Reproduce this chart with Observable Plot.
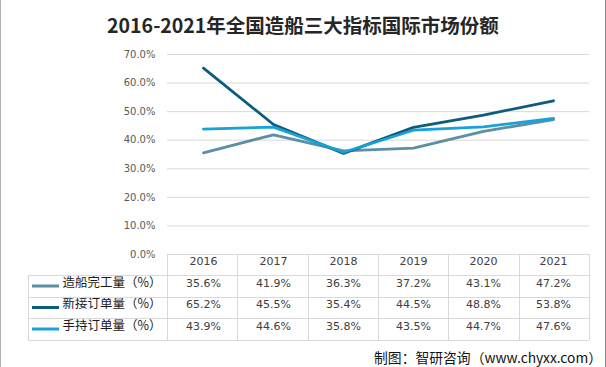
<!DOCTYPE html>
<html>
<head>
<meta charset="utf-8">
<script src="https://cdn.jsdelivr.net/npm/d3@7"></script>
<script src="https://cdn.jsdelivr.net/npm/@observablehq/plot@0.6"></script>
<style>
  html, body { margin: 0; padding: 0; background: #fff; }
  #wrap { position: relative; width: 606px; height: 367px; overflow: hidden; background: #fff; }
  #title { position: absolute; left: 0; top: 11px; width: 606px; text-align: center;
           font-family: "Noto Sans CJK SC", sans-serif; font-weight: bold; font-size: 19.5px; color: #262626; line-height: 28px; }
  #caption { position: absolute; right: 4px; top: 347px; font-family: "Noto Sans CJK SC", sans-serif;
             font-size: 13.8px; color: #111; line-height: 20px; }
  #chart { position: absolute; left: 0; top: 0; }
  #border { position: absolute; left: 0; top: 0; width: 604px; height: 367px; border-left: 1px solid #b0b0b0; border-right: 1px solid #8a8a8a; pointer-events: none; }
</style>
</head>
<body>
<div id="wrap">
  <div id="chart"></div>
  <div id="title">2016-2021年全国造船三大指标国际市场份额</div>
  <div id="caption">制图：智研咨询（www.chyxx.com）</div>
  <div id="border"></div>
</div>
<script>
const years = ["2016", "2017", "2018", "2019", "2020", "2021"];
const seriesNames = ["造船完工量（%）", "新接订单量（%）", "手持订单量（%）"];
const completed = [35.6, 41.9, 36.3, 37.2, 43.1, 47.2];
const newOrders = [65.2, 45.5, 35.4, 44.5, 48.8, 53.8];
const holding = [43.9, 44.6, 35.8, 43.5, 44.7, 47.6];
const colors = ["#5b8fa6", "#0d5c7b", "#17a2da"];
const yTicks = [0, 10, 20, 30, 40, 50, 60, 70];

const seriesValues = [completed, newOrders, holding];
const long = seriesValues.flatMap((vals, i) => years.map((yr, j) => ({year: yr, value: vals[j], name: seriesNames[i]})));

const W = 606, H = 367, ML = 167, MR = 17, MT = 54, MB = 113;
const frameBottom = H - MB;              // 254
const rowTops = [frameBottom, 275, 297, 318, 340];
const rowCenters = rowTops.slice(0, -1).map((t, i) => (t + rowTops[i + 1]) / 2);

const marks = [
  Plot.ruleY(yTicks, {stroke: "#d9d9d9", strokeWidth: 1}),
  Plot.line(long, {x: "year", y: "value", z: "name", stroke: "name", strokeWidth: 2.8, curve: "linear"}),
  Plot.text(years, {x: d => d, text: d => d, frameAnchor: "bottom", dy: rowCenters[0] - frameBottom,
    fontSize: 11, fill: "#404040", fontFamily: "DejaVu Sans"})
];
seriesValues.forEach((vals, i) => {
  marks.push(Plot.text(years, {x: d => d, text: (d, j) => vals[j].toFixed(1) + "%", frameAnchor: "bottom",
    dy: rowCenters[i + 1] - frameBottom, fontSize: 11, fill: "#404040", fontFamily: "DejaVu Sans"}));
  marks.push(Plot.text([seriesNames[i]], {text: d => d, frameAnchor: "bottom-left", textAnchor: "start",
    dx: 62 - ML, dy: rowCenters[i + 1] - frameBottom, fontSize: 12.5, fill: "#1a1a1a",
    fontFamily: "Noto Sans CJK SC"}));
});

const chart = Plot.plot({
  width: W, height: H,
  marginTop: MT, marginBottom: MB, marginLeft: ML, marginRight: MR,
  style: {fontFamily: "DejaVu Sans", fontSize: "10px", color: "#595959", background: "transparent"},
  x: {type: "band", domain: years, padding: 0, axis: null},
  y: {domain: [0, 70], ticks: yTicks, tickSize: 0, tickPadding: 12, tickFormat: d => d.toFixed(1) + "%", label: null, line: false},
  color: {domain: seriesNames, range: colors},
  marks
});
document.getElementById("chart").appendChild(chart);

// table grid and legend swatches
const svg = d3.select(chart);
const xs = chart.scale("x");
const x0 = xs.range[0], x1 = xs.range[1];
const step = (x1 - x0) / years.length;
const g = svg.append("g").attr("stroke", "#d9d9d9").attr("stroke-width", 1).attr("shape-rendering", "crispEdges");
rowTops.forEach((t, i) => {
  g.append("line").attr("x1", i === 0 ? x0 : 28).attr("x2", x1).attr("y1", t + 0.5).attr("y2", t + 0.5);
});
d3.range(years.length + 1).forEach(k => {
  const xx = Math.round(x0 + k * step) + 0.5;
  g.append("line").attr("x1", xx).attr("x2", xx).attr("y1", rowTops[0]).attr("y2", rowTops[rowTops.length - 1]);
});
g.append("line").attr("x1", 28.5).attr("x2", 28.5).attr("y1", rowTops[1]).attr("y2", rowTops[rowTops.length - 1]);
colors.forEach((c, i) => {
  svg.append("line").attr("x1", 32).attr("x2", 59).attr("y1", rowCenters[i + 1]).attr("y2", rowCenters[i + 1])
    .attr("stroke", c).attr("stroke-width", 3);
});
</script>
</body>
</html>
